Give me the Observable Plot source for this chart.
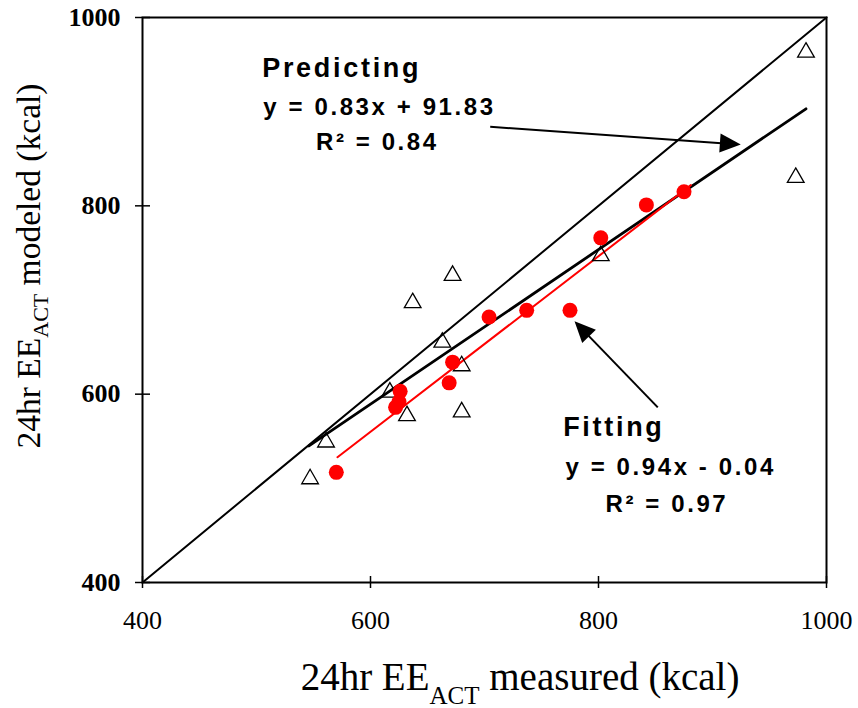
<!DOCTYPE html>
<html><head><meta charset="utf-8">
<script src="https://cdn.jsdelivr.net/npm/d3@7"></script>
<script src="https://cdn.jsdelivr.net/npm/@observablehq/plot@0.6"></script>
<style>
body{margin:0;background:#fff;}
</style></head><body><div id="chart"></div>
<script>
// Axis ticks
const xTicks = [400, 600, 800, 1000];
const yTicks = [400, 600, 800, 1000];

// Fitting data (red circles)
const fitX = [570, 622, 625, 626, 669, 672, 704, 737, 775, 802, 842, 875];
const fitY = [517, 586, 592, 603, 612, 634, 682, 689, 689, 766, 801, 815];

// Predicting data (open triangles)
const predX = [547, 561, 617, 632, 680, 680, 663, 637, 672, 802, 973, 982];
const predY = [510, 549, 602, 577, 581, 630, 655, 697, 726, 747, 830, 963];

// Identity line and regression line endpoints
const idX = [400, 1000];
const idY = [400, 1000];
const predLineX = [546, 982];
const predLineY = [545, 903];
const fitLineX = [571, 881];
const fitLineY = [533, 822];

// Annotation texts
const annTitles = ["Predicting", "Fitting"];
const annTitleX = [505, 769];
const annTitleY = [946, 565];
const annEq = ["y = 0.83x + 91.83", "y = 0.94x - 0.04"];
const annEqX = [506, 771];
const annEqY = [905, 522];
const annR2 = ["R² = 0.84", "R² = 0.97"];
const annR2X = [606, 860];
const annR2Y = [867, 483];

// Arrows: tail -> head centre, with head rotation
const arrowX1 = [705, 852];
const arrowY1 = [884, 586];
const arrowX2 = [914, 786.5];
const arrowY2 = [866, 668];
const arrowRot = [94, -44];

const fitData = fitX.map((x, i) => ({x, y: fitY[i]}));
const predData = predX.map((x, i) => ({x, y: predY[i]}));
const arrows = arrowX1.map((x1, i) => ({x1, y1: arrowY1[i], x2: arrowX2[i], y2: arrowY2[i], rot: arrowRot[i]}));
const titles = annTitles.map((t, i) => ({t, x: annTitleX[i], y: annTitleY[i]}));
const eqs = annEq.map((t, i) => ({t, x: annEqX[i], y: annEqY[i]}));
const r2s = annR2.map((t, i) => ({t, x: annR2X[i], y: annR2Y[i]}));

const W = 858, H = 708, mL = 142, mR = 32, mT = 17, mB = 126;
const innerW = W - mL - mR, innerH = H - mT - mB;
const sans = "'Liberation Sans', Arial, sans-serif";
const serif = "'Liberation Serif', 'Times New Roman', serif";

// Elongated filled arrowhead symbol (points up before rotation)
const arrowHead = {
  draw(ctx, size) {
    const r = Math.sqrt(size / Math.PI);
    ctx.moveTo(0, -1.3 * r);
    ctx.lineTo(1.0 * r, 0.9 * r);
    ctx.lineTo(-1.0 * r, 0.9 * r);
    ctx.closePath();
  }
};

const plot = Plot.plot({
  width: W, height: H,
  marginLeft: mL, marginRight: mR, marginTop: mT, marginBottom: mB,
  style: {background: "#fff", fontFamily: serif, color: "#000"},
  x: {domain: [400, 1000]},
  y: {domain: [400, 1000]},
  marks: [
    Plot.axisX(xTicks, {tickSize: 6, tickPadding: 22, fontSize: 26, label: null, strokeWidth: 1.5, tickFormat: d => String(d)}),
    Plot.axisY(yTicks, {tickSize: 7, tickPadding: 15, fontSize: 26, fontWeight: "bold", label: null, strokeWidth: 1.5, tickFormat: d => String(d)}),
    Plot.tickX(xTicks, {x: d => d, insetTop: innerH - 6, strokeWidth: 1.5}),
    Plot.tickY(yTicks, {y: d => d, insetRight: innerW - 8, strokeWidth: 1.5}),
    Plot.line(idX.map((x, i) => ({x, y: idY[i]})), {x: "x", y: "y", stroke: "#000", strokeWidth: 2}),
    Plot.line(predLineX.map((x, i) => ({x, y: predLineY[i]})), {x: "x", y: "y", stroke: "#000", strokeWidth: 2.8}),
    Plot.line(fitLineX.map((x, i) => ({x, y: fitLineY[i]})), {x: "x", y: "y", stroke: "#ff0000", strokeWidth: 2}),
    Plot.dot(predData, {x: "x", y: "y", symbol: "triangle", r: 6.2, stroke: "#000", strokeWidth: 1.3, fill: "none"}),
    Plot.dot(fitData, {x: "x", y: "y", r: 7.5, fill: "#ff0000", stroke: "none"}),
    Plot.link(arrows, {x1: "x1", y1: "y1", x2: "x2", y2: "y2", stroke: "#000", strokeWidth: 2}),
    Plot.dot(arrows, {x: "x2", y: "y2", symbol: arrowHead, r: 9.5, fill: "#000", stroke: "none", rotate: "rot"}),
    Plot.text(titles, {x: "x", y: "y", text: "t", textAnchor: "start", fontSize: 27, fontWeight: "bold", fontFamily: sans, fill: "#000"}),
    Plot.text(eqs, {x: "x", y: "y", text: "t", textAnchor: "start", fontSize: 24, fontWeight: "bold", fontFamily: sans, fill: "#000"}),
    Plot.text(r2s, {x: "x", y: "y", text: "t", textAnchor: "middle", fontSize: 24, fontWeight: "bold", fontFamily: sans, fill: "#000"}),
    Plot.frame({stroke: "#000", strokeWidth: 2})
  ]
});

const svg = d3.select(plot);
// letter spacing for the bold annotation texts
svg.selectAll("text").each(function() {
  const s = this.textContent;
  if (annTitles.includes(s)) this.setAttribute("letter-spacing", "2.7");
  else if (annEq.includes(s) || annR2.includes(s)) this.setAttribute("letter-spacing", "2.6");
});

function addTitle(g, main1, sub, main2, size, subSize, shift) {
  const t = g.append("text").attr("text-anchor", "middle")
    .attr("font-family", serif)
    .attr("font-size", size).attr("fill", "#000");
  t.append("tspan").text(main1);
  t.append("tspan").attr("font-size", subSize).attr("dy", shift).text(sub);
  t.append("tspan").attr("dy", -shift).text(main2);
  return t;
}
addTitle(svg.append("g").attr("transform", "translate(520,690)"), "24hr EE", "ACT", " measured (kcal)", 39, 25, 14);
addTitle(svg.append("g").attr("transform", "translate(40,266) rotate(-90)"), "24hr EE", "ACT", " modeled (kcal)", 33.5, 22, 8);

document.getElementById("chart").appendChild(plot);
</script></body></html>
